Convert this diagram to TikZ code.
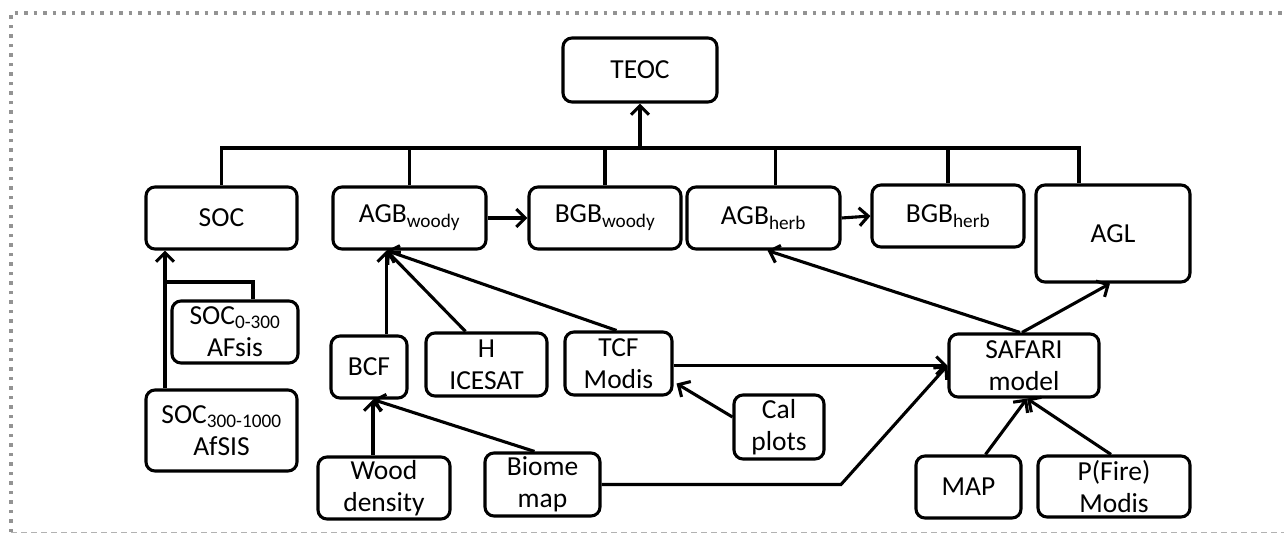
\documentclass[tikz,border=0pt]{standalone}
\usepackage{fontspec}
\setmainfont{Carlito}
\usetikzlibrary{arrows.meta, positioning, calc}

\begin{document}
\begin{tikzpicture}[
  x=1pt, y=-1pt,
  font=\fontsize{27.5}{32}\selectfont,
  box/.style={draw, line width=3.1pt, rounded corners=9pt, align=center, inner sep=0pt, fill=white},
  link/.style={line width=3.1pt, black},
  arrow/.style={link, -{Straight Barb[length=9pt, width=18pt, line width=3.1pt]}},
  frame/.style={line width=3.5pt, gray!85, dash pattern=on 3.5pt off 6pt}
]
% Rahmen
\useasboundingbox (0,0) rectangle (1284,534);
\draw[frame] (11,532) -- (11,13) -- (1284,13);
\draw[gray!60, line width=1pt, dash pattern=on 6pt off 4pt] (11,532) -- (1284,532);

% Ebene oben
\node[box, minimum width=154pt, minimum height=64pt] (teoc) at (640,70) {TEOC};

% Pools
\node[box, minimum width=151pt, minimum height=62pt] (soc)  at (221.5,218) {SOC};
\node[box, minimum width=153pt, minimum height=62pt] (agbw) at (409.5,218) {AGB\textsubscript{woody}};
\node[box, minimum width=152pt, minimum height=62pt] (bgbw) at (605,218)   {BGB\textsubscript{woody}};
\node[box, minimum width=153pt, minimum height=62pt] (agbh) at (763.5,218) {AGB\textsubscript{herb}};
\node[box, minimum width=152pt, minimum height=62pt] (bgbh) at (948,216)   {BGB\textsubscript{herb}};
\node[box, minimum width=154pt, minimum height=97pt] (agl)  at (1113,233.5) {AGL};

% Eingangsdaten
\node[box, minimum width=126pt, minimum height=62pt] (soc0)  at (235,332)     {SOC\textsubscript{0-300}\\AFsis};
\node[box, minimum width=151pt, minimum height=81pt] (soc3)  at (221.5,430.5) {SOC\textsubscript{300-1000}\\AfSIS};
\node[box, minimum width=76pt,  minimum height=62pt] (bcf)   at (369,367)     {BCF};
\node[box, minimum width=121pt, minimum height=63pt] (h)     at (486.5,364.5) {H\\ICESAT};
\node[box, minimum width=107pt, minimum height=63pt] (tcf)   at (618.5,363.5) {TCF\\Modis};
\node[box, minimum width=90pt,  minimum height=64pt] (cal)   at (779,427)     {Cal\\plots};
\node[box, minimum width=150pt, minimum height=63pt] (saf)   at (1024,365.5)  {SAFARI\\model};
\node[box, minimum width=132pt, minimum height=62pt] (wood)  at (384,488)     {Wood\\density};
\node[box, minimum width=115pt, minimum height=63pt] (biome) at (542.5,484.5) {Biome\\map};
\node[box, minimum width=105pt, minimum height=62pt] (map)   at (968.5,487)   {MAP};
\node[box, minimum width=152pt, minimum height=61pt] (pf)    at (1114,486.5)  {P(Fire)\\Modis};

% Hilfspunkte
\coordinate (bus)    at (640,148);
\coordinate (socin)  at ([xshift=-56.5]soc.south);
\coordinate (socj)   at (165,282);
\coordinate (agbwin) at ([xshift=-23]agbw.south);
\coordinate (bcfin)  at ([xshift=4]bcf.south);
\coordinate (bend)   at (841,484.5);
\coordinate (safin)  at (saf.west);
\coordinate (safout) at ([xshift=3]saf.south);

% Sammelschiene zu TEOC
\draw[link] (soc.north) -- (soc.north |- bus) -- ([xshift=-34]agl.north |- bus) -- ([xshift=-34]agl.north);
\draw[link] (agbw.north) -- (agbw.north |- bus);
\draw[link] (bgbw.north) -- (bgbw.north |- bus);
\draw[link] ([xshift=12]agbh.north) -- ([xshift=12]agbh.north |- bus);
\draw[link] (bgbh.north) -- (bgbh.north |- bus);
\draw[arrow] (bus) -- (teoc.south);

% Pfeile zwischen Pools
\draw[arrow] (agbw.east) -- (bgbw.west);
\draw[arrow] (agbh.east) -- (bgbh.west);

% Boden
\draw[arrow] (soc3.north -| socin) -- (socin);
\draw[link] ([xshift=18]soc0.north) |- (socj);

% Holzige Biomasse
\draw[arrow] (bcf.north -| agbwin) -- (agbwin);
\draw[arrow] ([xshift=-21]h.north) -- (agbwin);
\draw[arrow] ([xshift=-2]tcf.north) -- (agbwin);
\draw[arrow] (wood.north -| bcfin) -- (bcfin);
\draw[arrow] ([xshift=-8]biome.north) -- (bcfin);
\draw[arrow] ([yshift=10]cal.west) -- ([xshift=3,yshift=-20]tcf.east);

% SAFARI
\draw[arrow] (tcf.east |- safin) -- (safin);
\draw[arrow] (biome.east) -- (bend) -- (safin);
\draw[arrow] ([xshift=-4]saf.north) -- ([xshift=4]agbh.south);
\draw[arrow] ([xshift=-2]saf.north) -- ([xshift=-3]agl.south);
\draw[arrow] ([xshift=17]map.north) -- (safout);
\draw[arrow] ([xshift=-3]pf.north) -- (safout);
\end{tikzpicture}
\end{document}
